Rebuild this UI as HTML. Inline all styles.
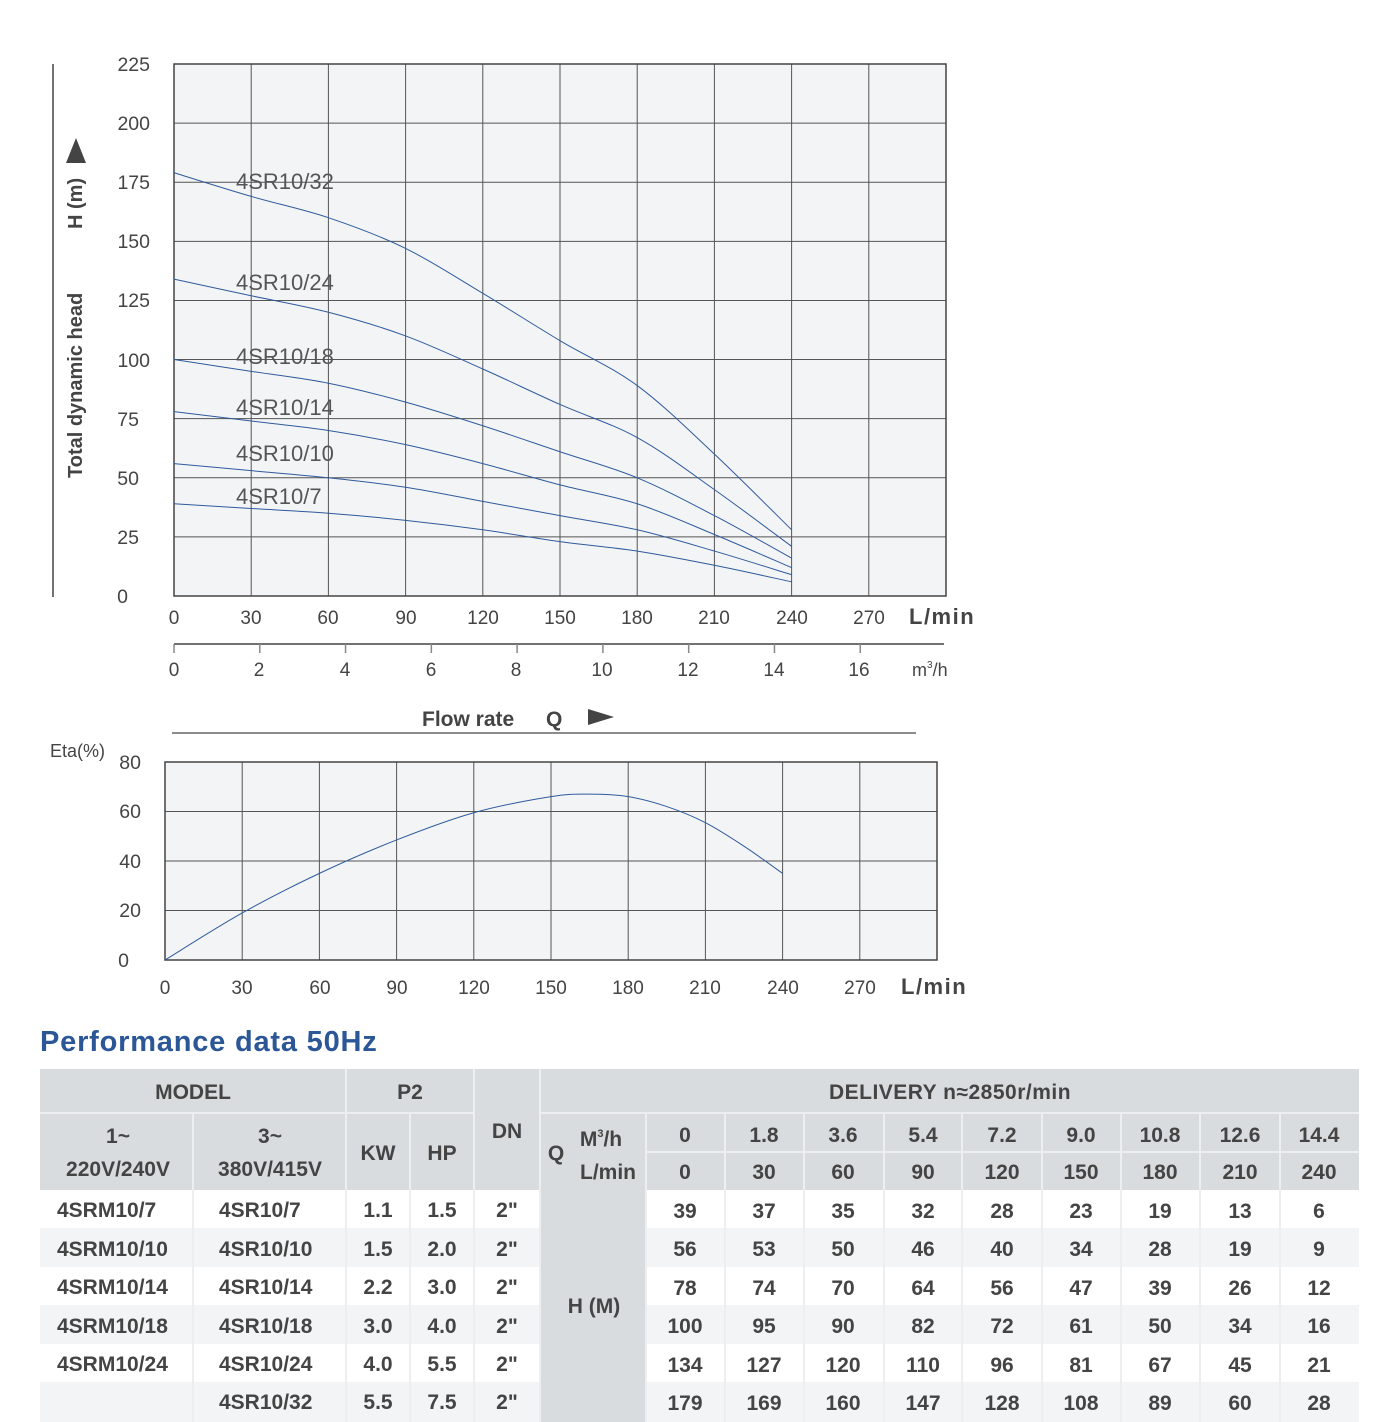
<!DOCTYPE html>
<html><head><meta charset="utf-8"><style>
html,body{margin:0;padding:0;background:#fff;}
svg{display:block;font-family:"Liberation Sans",sans-serif;}
</style></head><body>
<svg id="s" width="1400" height="1422" viewBox="0 0 1400 1422" xmlns="http://www.w3.org/2000/svg">
<rect x="174" y="64" width="772" height="532" fill="#f3f4f6"/>
<g id="g1" stroke="#555" stroke-width="1"></g>
<rect x="174" y="64" width="772" height="532" fill="none" stroke="#444" stroke-width="1.5"/>
<g id="curves" fill="none" stroke="#2f5a9c" stroke-width="1"></g>
<g font-size="22" fill="#555">
<text x="236" y="189">4SR10/32</text>
<text x="236" y="290">4SR10/24</text>
<text x="236" y="364">4SR10/18</text>
<text x="236" y="415">4SR10/14</text>
<text x="236" y="461">4SR10/10</text>
<text x="236" y="504">4SR10/7</text>
</g>
<g font-size="19.5" fill="#444" text-anchor="end">
<text x="150" y="71">225</text><text x="150" y="130">200</text><text x="150" y="189">175</text>
<text x="150" y="248">150</text><text x="150" y="307">125</text><text x="150" y="367">100</text>
<text x="139" y="426">75</text><text x="139" y="485">50</text><text x="139" y="544">25</text>
<text x="128" y="603">0</text>
</g>
<g font-size="19" fill="#444" text-anchor="middle">
<text x="174" y="624">0</text><text x="251" y="624">30</text><text x="328" y="624">60</text>
<text x="406" y="624">90</text><text x="483" y="624">120</text><text x="560" y="624">150</text>
<text x="637" y="624">180</text><text x="714" y="624">210</text><text x="792" y="624">240</text>
<text x="869" y="624">270</text>
</g>
<text x="909" y="624" font-size="22" font-weight="bold" fill="#444" letter-spacing="1.5">L/min</text>
<line x1="174" y1="644" x2="944" y2="644" stroke="#444" stroke-width="1.5"/>
<g id="mt" stroke="#888" stroke-width="1.5"></g>
<g font-size="19" fill="#444" text-anchor="middle">
<text x="174" y="676">0</text><text x="259" y="676">2</text><text x="345" y="676">4</text>
<text x="431" y="676">6</text><text x="516" y="676">8</text><text x="602" y="676">10</text>
<text x="688" y="676">12</text><text x="774" y="676">14</text><text x="859" y="676">16</text>
</g>
<text x="912" y="676" font-size="18" fill="#444">m<tspan font-size="10" dy="-8">3</tspan><tspan dy="8">/h</tspan></text>
<line x1="53" y1="64" x2="53" y2="597" stroke="#444" stroke-width="1.5"/>
<text transform="translate(82,478) rotate(-90)" font-size="20" font-weight="bold" fill="#444">Total dynamic head</text>
<text transform="translate(82,229) rotate(-90)" font-size="20" font-weight="bold" fill="#444">H (m)</text>
<polygon points="66,163 86,163 76,138" fill="#444"/>
<text x="422" y="726" font-size="21" font-weight="bold" fill="#444">Flow rate</text>
<text x="546" y="726" font-size="21" font-weight="bold" fill="#444">Q</text>
<polygon points="588,709 588,725 614,717" fill="#444"/>
<line x1="172" y1="733" x2="916" y2="733" stroke="#666" stroke-width="1.5"/>
<rect x="165" y="762" width="772" height="198" fill="#f3f4f6"/>
<g id="g2" stroke="#555" stroke-width="1"></g>
<rect x="165" y="762" width="772" height="198" fill="none" stroke="#444" stroke-width="1.5"/>
<path id="eta" fill="none" stroke="#2f5a9c" stroke-width="1"/>
<text x="50" y="757" font-size="18" fill="#444">Eta(%)</text>
<g font-size="19.5" fill="#444" text-anchor="end">
<text x="141" y="769">80</text><text x="141" y="818">60</text><text x="141" y="868">40</text>
<text x="141" y="917">20</text><text x="129" y="967">0</text>
</g>
<g font-size="19" fill="#444" text-anchor="middle">
<text x="165" y="994">0</text><text x="242" y="994">30</text><text x="320" y="994">60</text>
<text x="397" y="994">90</text><text x="474" y="994">120</text><text x="551" y="994">150</text>
<text x="628" y="994">180</text><text x="705" y="994">210</text><text x="783" y="994">240</text>
<text x="860" y="994">270</text>
</g>
<text x="901" y="994" font-size="22" font-weight="bold" fill="#444" letter-spacing="1.5">L/min</text>
<text x="40" y="1051" font-size="29" font-weight="bold" fill="#2b5797" letter-spacing="0.8">Performance data 50Hz</text>
<rect x="40" y="1069" width="1319" height="121" fill="#d9dcde"/>
<rect x="40" y="1190" width="1319" height="38" fill="#fff"/>
<rect x="40" y="1228" width="1319" height="39" fill="#f3f4f5"/>
<rect x="40" y="1267" width="1319" height="38" fill="#fff"/>
<rect x="40" y="1305" width="1319" height="39" fill="#f3f4f5"/>
<rect x="40" y="1344" width="1319" height="38" fill="#fff"/>
<rect x="40" y="1382" width="1319" height="40" fill="#f3f4f5"/>
<rect x="540" y="1190" width="106" height="232" fill="#d9dcde"/>
<g stroke="#eceeef" stroke-width="2">
<line x1="40" y1="1113" x2="474" y2="1113"/><line x1="540" y1="1113" x2="1359" y2="1113"/>
<line x1="646" y1="1152" x2="1359" y2="1152"/>
<line x1="193" y1="1113" x2="193" y2="1422"/><line x1="346" y1="1069" x2="346" y2="1422"/>
<line x1="410" y1="1113" x2="410" y2="1422"/><line x1="474" y1="1069" x2="474" y2="1422"/>
<line x1="540" y1="1069" x2="540" y2="1422"/><line x1="646" y1="1113" x2="646" y2="1422"/>
<line x1="725" y1="1113" x2="725" y2="1422"/><line x1="804" y1="1113" x2="804" y2="1422"/>
<line x1="884" y1="1113" x2="884" y2="1422"/><line x1="962" y1="1113" x2="962" y2="1422"/>
<line x1="1042" y1="1113" x2="1042" y2="1422"/><line x1="1121" y1="1113" x2="1121" y2="1422"/>
<line x1="1200" y1="1113" x2="1200" y2="1422"/><line x1="1280" y1="1113" x2="1280" y2="1422"/>
</g>
<g font-size="21" font-weight="bold" fill="#444" text-anchor="middle">
<text x="193" y="1099">MODEL</text><text x="410" y="1099">P2</text>
<text x="507" y="1138">DN</text>
<text x="950" y="1099" letter-spacing="0.5">DELIVERY  n≈2850r/min</text>
<text x="118" y="1143">1~</text><text x="118" y="1176">220V/240V</text>
<text x="270" y="1143">3~</text><text x="270" y="1176">380V/415V</text>
<text x="378" y="1160">KW</text><text x="442" y="1160">HP</text>
<text x="556" y="1160">Q</text>
<text x="601" y="1146">M<tspan font-size="11" dy="-9">3</tspan><tspan dy="9">/h</tspan></text>
<text x="608" y="1179">L/min</text>
<text x="594" y="1313">H (M)</text>
</g>
<g font-size="21" font-weight="bold" fill="#444">
<text x="57" y="1217">4SRM10/7</text><text x="57" y="1256">4SRM10/10</text>
<text x="57" y="1294">4SRM10/14</text><text x="57" y="1333">4SRM10/18</text>
<text x="57" y="1371">4SRM10/24</text>
<text x="219" y="1217">4SR10/7</text><text x="219" y="1256">4SR10/10</text>
<text x="219" y="1294">4SR10/14</text><text x="219" y="1333">4SR10/18</text>
<text x="219" y="1371">4SR10/24</text><text x="219" y="1409">4SR10/32</text>
</g>
<g font-size="21" font-weight="bold" fill="#444" text-anchor="middle">
<text x="378" y="1217">1.1</text><text x="442" y="1217">1.5</text><text x="507" y="1217">2"</text>
<text x="378" y="1256">1.5</text><text x="442" y="1256">2.0</text><text x="507" y="1256">2"</text>
<text x="378" y="1294">2.2</text><text x="442" y="1294">3.0</text><text x="507" y="1294">2"</text>
<text x="378" y="1333">3.0</text><text x="442" y="1333">4.0</text><text x="507" y="1333">2"</text>
<text x="378" y="1371">4.0</text><text x="442" y="1371">5.5</text><text x="507" y="1371">2"</text>
<text x="378" y="1409">5.5</text><text x="442" y="1409">7.5</text><text x="507" y="1409">2"</text>
<text x="685" y="1142">0</text><text x="764" y="1142">1.8</text><text x="843" y="1142">3.6</text><text x="923" y="1142">5.4</text><text x="1002" y="1142">7.2</text><text x="1081" y="1142">9.0</text><text x="1160" y="1142">10.8</text><text x="1240" y="1142">12.6</text><text x="1319" y="1142">14.4</text>
<text x="685" y="1179">0</text><text x="764" y="1179">30</text><text x="843" y="1179">60</text><text x="923" y="1179">90</text><text x="1002" y="1179">120</text><text x="1081" y="1179">150</text><text x="1160" y="1179">180</text><text x="1240" y="1179">210</text><text x="1319" y="1179">240</text>
<text x="685" y="1218">39</text><text x="764" y="1218">37</text><text x="843" y="1218">35</text><text x="923" y="1218">32</text><text x="1002" y="1218">28</text><text x="1081" y="1218">23</text><text x="1160" y="1218">19</text><text x="1240" y="1218">13</text><text x="1319" y="1218">6</text>
<text x="685" y="1256">56</text><text x="764" y="1256">53</text><text x="843" y="1256">50</text><text x="923" y="1256">46</text><text x="1002" y="1256">40</text><text x="1081" y="1256">34</text><text x="1160" y="1256">28</text><text x="1240" y="1256">19</text><text x="1319" y="1256">9</text>
<text x="685" y="1295">78</text><text x="764" y="1295">74</text><text x="843" y="1295">70</text><text x="923" y="1295">64</text><text x="1002" y="1295">56</text><text x="1081" y="1295">47</text><text x="1160" y="1295">39</text><text x="1240" y="1295">26</text><text x="1319" y="1295">12</text>
<text x="685" y="1333">100</text><text x="764" y="1333">95</text><text x="843" y="1333">90</text><text x="923" y="1333">82</text><text x="1002" y="1333">72</text><text x="1081" y="1333">61</text><text x="1160" y="1333">50</text><text x="1240" y="1333">34</text><text x="1319" y="1333">16</text>
<text x="685" y="1372">134</text><text x="764" y="1372">127</text><text x="843" y="1372">120</text><text x="923" y="1372">110</text><text x="1002" y="1372">96</text><text x="1081" y="1372">81</text><text x="1160" y="1372">67</text><text x="1240" y="1372">45</text><text x="1319" y="1372">21</text>
<text x="685" y="1410">179</text><text x="764" y="1410">169</text><text x="843" y="1410">160</text><text x="923" y="1410">147</text><text x="1002" y="1410">128</text><text x="1081" y="1410">108</text><text x="1160" y="1410">89</text><text x="1240" y="1410">60</text><text x="1319" y="1410">28</text>
</g>
</svg>
<script>
(function(){
var NS="http://www.w3.org/2000/svg";
function ln(g,x1,y1,x2,y2){var l=document.createElementNS(NS,"line");l.setAttribute("x1",x1);l.setAttribute("y1",y1);l.setAttribute("x2",x2);l.setAttribute("y2",y2);g.appendChild(l);}
var g1=document.getElementById("g1");
for(var i=1;i<10;i++){var x=174+i*77.2;ln(g1,x,64,x,596);}
for(var j=1;j<9;j++){var y=64+j*532/9;ln(g1,174,y,946,y);}
var g2=document.getElementById("g2");
for(i=1;i<10;i++){x=165+i*77.2;ln(g2,x,762,x,960);}
for(j=1;j<4;j++){y=762+j*49.5;ln(g2,165,y,937,y);}
var mt=document.getElementById("mt");
for(i=0;i<=8;i++){x=174+i*85.78;ln(mt,x,644,x,653);}
function smooth(p){var d="M"+p[0][0]+","+p[0][1];for(var k=0;k<p.length-1;k++){var p0=p[k-1]||p[k],p1=p[k],p2=p[k+1],p3=p[k+2]||p2;
d+=" C"+(p1[0]+(p2[0]-p0[0])/6)+","+(p1[1]+(p2[1]-p0[1])/6)+" "+(p2[0]-(p3[0]-p1[0])/6)+","+(p2[1]-(p3[1]-p1[1])/6)+" "+p2[0]+","+p2[1];}return d;}
var H=[[179,169,160,147,128,108,89,60,28],[134,127,120,110,96,81,67,45,21],[100,95,90,82,72,61,50,34,16],[78,74,70,64,56,47,39,26,12],[56,53,50,46,40,34,28,19,9],[39,37,35,32,28,23,19,13,6]];
var cg=document.getElementById("curves");
H.forEach(function(r){var p=r.map(function(h,k){return [174+k*77.2,596-h*532/225];});var e=document.createElementNS(NS,"path");e.setAttribute("d",smooth(p));cg.appendChild(e);});
var E=[[0,0],[30,19],[60,35],[90,48.5],[120,59.5],[150,66],[165,67],[180,66],[195,62],[210,55.5],[225,46],[240,35]];
var ep=E.map(function(a){return [165+a[0]*2.5733,960-a[1]*2.475];});
document.getElementById("eta").setAttribute("d",smooth(ep));
})();
</script>
</body></html>
